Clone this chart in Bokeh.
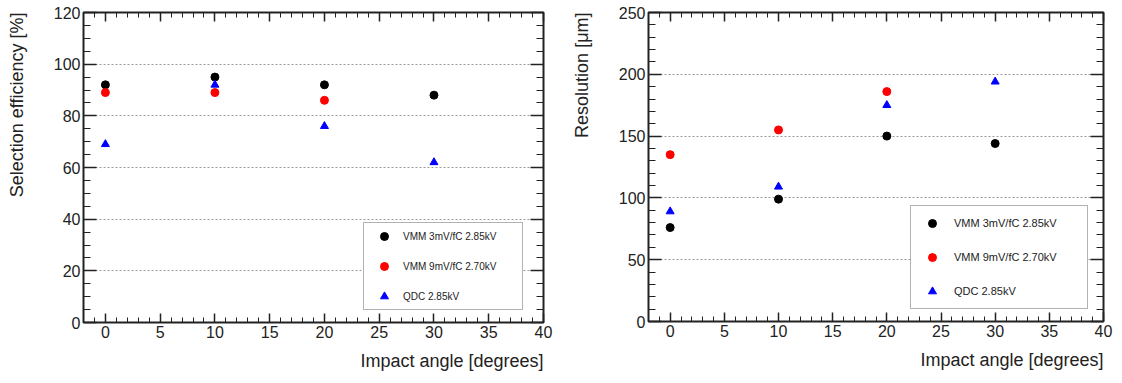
from bokeh.plotting import figure
from bokeh.layouts import row
from bokeh.models import (Range1d, SingleIntervalTicker, LinearAxis, Legend, LegendItem, Title,
                          CustomLabelingPolicy)
from bokeh.embed import file_html
from bokeh.resources import INLINE

# ---- data ----
angles = [0, 10, 20, 30]
angles_vmm9 = [0, 10, 20]
series_labels = ["VMM 3mV/fC 2.85kV", "VMM 9mV/fC 2.70kV", "QDC 2.85kV"]

eff_vmm3 = [92, 95, 92, 88]
eff_vmm9 = [89, 89, 86]
eff_qdc = [69, 92, 76, 62]

res_vmm3 = [76, 99, 150, 144]
res_vmm9 = [135, 155, 186]
res_qdc = [89, 109, 175, 194]

x_label = "Impact angle [degrees]"
y_label_eff = "Selection efficiency [%]"
y_label_res = "Resolution [μm]"

FONT = "Liberation Sans"
TXT = "#222222"

HIDE_LABELS = """
const n = indices.size
for (let i = 0; i < n; i++) { indices.unset(i) }
return indices
"""


def make_fig(ymax, ystep, yminor, ylabel, shift_left, border_right, border_top,
             frame_w, frame_h, vmm3, vmm9, qdc, leg_loc, leg_pad, leg_spacing,
             leg_gw, leg_standoff, leg_lw, leg_font):
    p = figure(frame_width=frame_w, frame_height=frame_h,
               x_range=Range1d(-2, 40), y_range=Range1d(0, ymax),
               output_backend="svg", toolbar_location=None,
               min_border_left=102, min_border_right=border_right,
               min_border_top=border_top, min_border_bottom=62,
               background_fill_color="white", border_fill_color=None,
               margin=(0, 0, 0, shift_left))
    p.outline_line_color = "#222222"
    p.outline_line_width = 2

    xt = SingleIntervalTicker(interval=5, num_minor_ticks=5)
    yt = SingleIntervalTicker(interval=ystep, num_minor_ticks=yminor)

    for ax in p.xaxis:
        ax.ticker = xt
    for ax in p.yaxis:
        ax.ticker = yt

    p.xgrid.visible = False
    p.ygrid.ticker = yt
    p.ygrid.grid_line_color = "#9a9a9a"
    p.ygrid.grid_line_dash = "2 2"
    p.ygrid.grid_line_width = 1

    # mirror axes (ticks only)
    p.add_layout(LinearAxis(ticker=xt), "above")
    p.add_layout(LinearAxis(ticker=yt), "right")

    for ax in p.xaxis:
        ax.major_tick_in = 9
        ax.major_tick_out = 0
        ax.minor_tick_in = 5
        ax.minor_tick_out = 0
    for ax in p.yaxis:
        ax.major_tick_in = 13
        ax.major_tick_out = 0
        ax.minor_tick_in = 7
        ax.minor_tick_out = 0
    for ax in p.axis:
        ax.axis_line_color = None
        ax.major_tick_line_color = "#222222"
        ax.minor_tick_line_color = "#222222"
        ax.major_tick_line_width = 1.5
        ax.minor_tick_line_width = 1
        ax.major_label_text_font = FONT
        ax.major_label_text_font_size = "16px"
        ax.major_label_text_color = TXT
        ax.major_label_standoff = 3
    for ax in (p.above[0], p.right[0]):
        ax.major_label_policy = CustomLabelingPolicy(code=HIDE_LABELS)
        ax.major_label_standoff = 0
        ax.major_label_text_font_size = "0px"

    r1 = p.scatter(angles, vmm3, marker="circle", size=8, color="black")
    r2 = p.scatter(angles_vmm9, vmm9, marker="circle", size=8, color="#ff0000")
    r3 = p.scatter(angles, qdc, marker="triangle", size=8, color="#0000ff")

    legend = Legend(items=[LegendItem(label=series_labels[0], renderers=[r1]),
                           LegendItem(label=series_labels[1], renderers=[r2]),
                           LegendItem(label=series_labels[2], renderers=[r3])],
                    location=leg_loc, padding=leg_pad, spacing=leg_spacing,
                    glyph_width=leg_gw, glyph_height=20, label_height=20,
                    label_standoff=leg_standoff, label_width=leg_lw, margin=0,
                    label_text_font=FONT, label_text_font_size=leg_font,
                    label_text_color=TXT,
                    border_line_color="#666666", border_line_width=1.5,
                    background_fill_color="white", background_fill_alpha=1)
    p.add_layout(legend, "center")

    p.add_layout(Title(text=x_label, align="right", text_font=FONT,
                       text_font_size="18px", text_font_style="normal",
                       text_color=TXT, standoff=16), "below")
    p.add_layout(Title(text=ylabel, align="right", text_font=FONT,
                       text_font_size="18px", text_font_style="normal",
                       text_color=TXT, standoff=47), "left")
    return p


p1 = make_fig(120, 20, 4, y_label_eff, -19, 23, 11, 460, 310,
              eff_vmm3, eff_vmm9, eff_qdc, (280, 12), 3, 10, 34, 2, 116, "10px")
p2 = make_fig(250, 50, 5, y_label_res, -20, 19, 12, 455, 309,
              res_vmm3, res_vmm9, res_qdc, (262, 12), 7, 14, 28, 8, 126, "11px")

layout = row(p1, p2)
open("out.html", "w").write(file_html(layout, INLINE))
